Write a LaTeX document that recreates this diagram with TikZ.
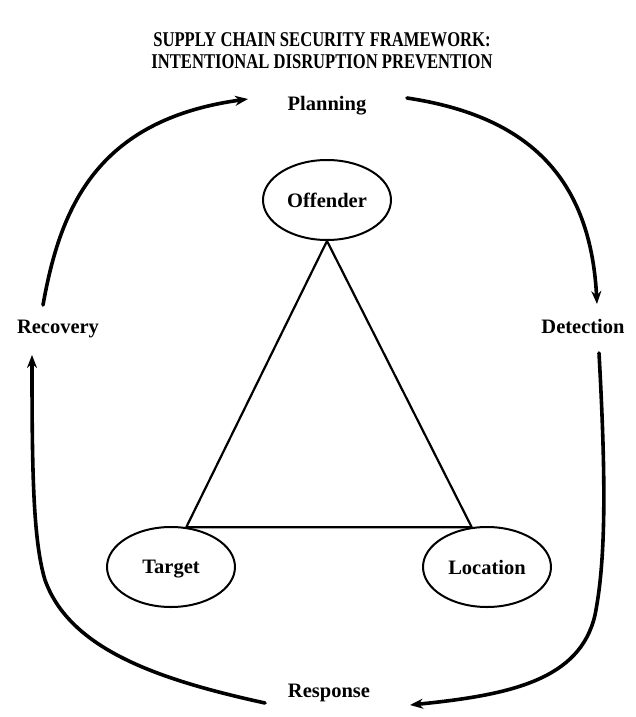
\documentclass[tikz,border=0pt]{standalone}
\usepackage{fontspec}
\usepackage{graphicx}
\setmainfont{Liberation Serif}
\usetikzlibrary{arrows.meta,shapes.geometric}
\begin{document}
\begin{tikzpicture}[x=1pt,y=-1pt,
  lbl/.style={font=\fontsize{20.5}{24}\selectfont\bfseries, inner sep=0pt, anchor=base},
  ttl/.style={font=\fontsize{21}{24}\selectfont\bfseries, inner sep=0pt, anchor=base},
  ell/.style={ellipse, draw, line width=2pt, minimum width=128pt, minimum height=80pt,
              inner sep=0pt, text depth=0pt, font=\fontsize{20.5}{24}\selectfont\bfseries},
  tri/.style={line width=2.2pt, line join=round},
  cyc/.style={line width=3.6pt, line cap=round, -{Stealth[length=13pt,width=10pt]}}]
\useasboundingbox (0,0) rectangle (636,717);
\node[ttl] (title1) at (322,47) {\scalebox{0.79}[1]{SUPPLY CHAIN SECURITY FRAMEWORK:}};
\node[ttl] (title2) at (322,69) {\scalebox{0.79}[1]{INTENTIONAL DISRUPTION PREVENTION}};
\node[lbl] (plan) at (327,110) {Planning};
\node[lbl] (rec) at (58,333) {Recovery};
\node[lbl] (det) at (583,333) {Detection};
\node[lbl] (resp) at (329,697) {Response};
\node[ell] (off) at (327,200) {Offender};
\node[ell] (tgt) at (171,567) {Target};
\node[ell] (loc) at (487,567) {Location};
\draw[tri] (off.south) -- (tgt.69) -- (loc.111) -- cycle;
\coordinate (r1) at (43,305);
\coordinate (p1) at (248,99);
\coordinate (p2) at (407,98);
\coordinate (d1) at (597,304);
\coordinate (d2) at (599,353);
\coordinate (s1) at (410,705);
\coordinate (s2) at (265,703);
\coordinate (r2) at (32,355);
\draw[cyc] (r1) .. controls (60,210) and (95,120) .. (p1);
\draw[cyc] (p2) .. controls (520,115) and (590,170) .. (d1);
\draw[cyc] (d2) .. controls (606,480) and (606,560) .. (595,615)
               .. controls (580,680) and (510,695) .. (s1);
\draw[cyc] (s2) .. controls (160,680) and (70,650) .. (45,580)
               .. controls (33,540) and (32,470) .. (r2);
\end{tikzpicture}
\end{document}
